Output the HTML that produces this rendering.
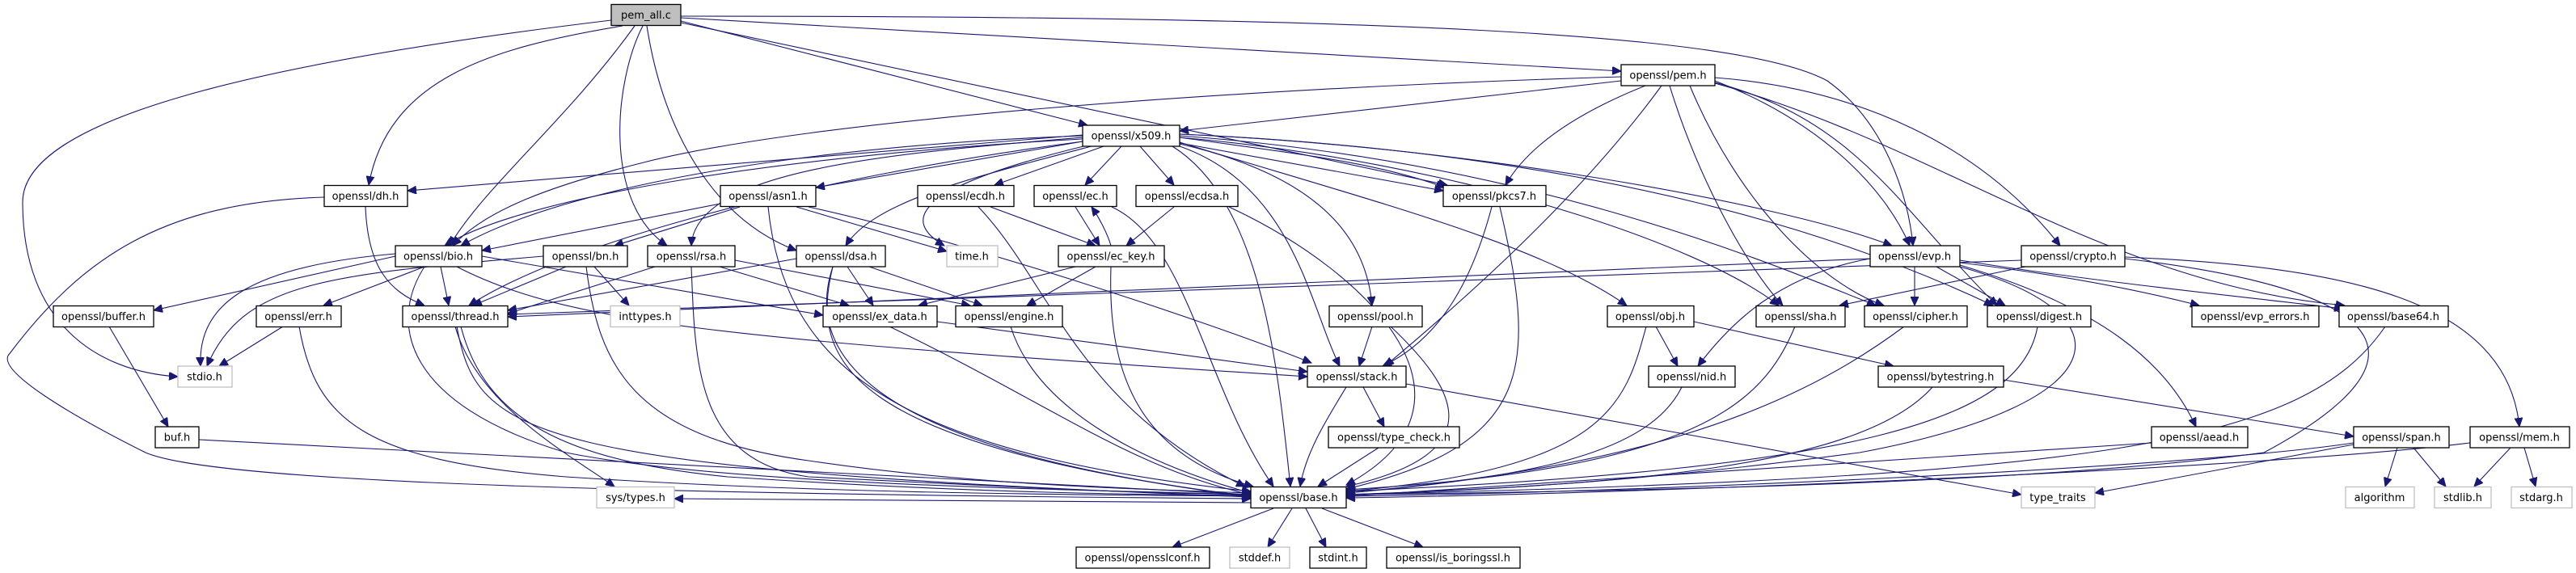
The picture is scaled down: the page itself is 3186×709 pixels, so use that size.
<!DOCTYPE html>
<html><head><meta charset="utf-8"><style>
html,body{margin:0;padding:0;background:#fff;}
svg{display:block;}
text{font-family:"DejaVu Sans","Liberation Sans",sans-serif;font-size:13px;fill:#000;text-anchor:middle;}
.e{fill:none;stroke:#191970;stroke-width:1.1;marker-end:url(#a);}
.n{fill:#fff;stroke:#000;stroke-width:1.3;}
.g{fill:#fff;stroke:#bfbfbf;stroke-width:1.3;}
</style></head><body>
<svg width="3186" height="709" viewBox="0 0 3186 709" xmlns="http://www.w3.org/2000/svg">
<defs><marker id="a" markerUnits="userSpaceOnUse" markerWidth="12" markerHeight="10" refX="11" refY="5" orient="auto"><path d="M0,0 L11,5 L0,10 z" fill="#191970" stroke="#191970"/></marker></defs>
<g>
<path class="e" d="M756,25 C 300,80 28,150 28,250 C 28,400 120,460 220,466"/>
<path class="e" d="M770,32 C 600,60 480,100 456,229"/>
<path class="e" d="M785,32 C 700,150 600,230 556,304"/>
<path class="e" d="M795,32 C 760,100 745,250 825,304"/>
<path class="e" d="M800,32 C 820,160 880,270 985,310"/>
<path class="e" d="M842,26 L1345,155"/>
<path class="e" d="M842,22 L2005,88"/>
<path class="e" d="M842,28 L1790,229"/>
<path class="e" d="M842,20 C 1700,20 2150,40 2260,100 C 2330,150 2360,240 2366,304"/>
<path class="e" d="M2005,100 L1459,162"/>
<path class="e" d="M2005,95 C 1500,110 1000,150 800,200 C 680,230 600,260 560,304"/>
<path class="e" d="M2035,106 C 1950,140 1890,180 1862,229"/>
<path class="e" d="M2055,106 C 1950,250 1800,380 1713,453"/>
<path class="e" d="M2121,100 C 2250,150 2330,230 2362,304"/>
<path class="e" d="M2121,96 C 2300,110 2450,180 2548,304"/>
<path class="e" d="M2090,106 C 2150,250 2250,350 2330,378"/>
<path class="e" d="M2065,106 C 2100,220 2160,330 2205,378"/>
<path class="e" d="M2121,102 C 2300,150 2350,260 2470,378"/>
<path class="e" d="M2121,103 C 2400,180 2600,350 2900,378"/>
<path class="e" d="M2313,320 L628,392"/>
<path class="e" d="M2500,322 C 2000,345 1000,370 628,389"/>
<path class="e" d="M1339,167 L504,236"/>
<path class="e" d="M1339,175 L1009,232"/>
<path class="e" d="M1339,168 C 1000,180 700,230 570,304"/>
<path class="e" d="M1339,172 C 1000,190 650,240 550,304"/>
<path class="e" d="M1339,175 C 1000,220 700,300 580,378"/>
<path class="e" d="M1339,170 C 1100,190 860,210 855,304"/>
<path class="e" d="M1350,181 C 1200,220 1080,250 1046,304"/>
<path class="e" d="M1340,181 C 1140,230 1110,270 1168,304"/>
<path class="e" d="M1365,181 L1230,229"/>
<path class="e" d="M1387,181 L1342,229"/>
<path class="e" d="M1410,181 L1452,229"/>
<path class="e" d="M1459,177 L1785,236"/>
<path class="e" d="M1459,170 C 1600,190 1700,200 1787,232"/>
<path class="e" d="M1450,181 C 1560,250 1580,450 1596,602"/>
<path class="e" d="M1459,181 C 1600,230 1620,380 1657,453"/>
<path class="e" d="M1459,178 C 1640,220 1690,300 1697,378"/>
<path class="e" d="M1459,176 C 1700,250 1900,300 2012,378"/>
<path class="e" d="M1459,166 C 1800,180 2200,250 2340,304"/>
<path class="e" d="M1459,170 C 1800,200 2100,300 2200,378"/>
<path class="e" d="M1459,168 C 1900,200 2200,330 2320,378"/>
<path class="e" d="M1459,166 C 2000,190 2300,300 2465,378"/>
<path class="e" d="M1000,256 C 1200,300 1500,400 1622,449"/>
<path class="e" d="M891,252 L596,310"/>
<path class="e" d="M915,256 L760,304"/>
<path class="e" d="M985,256 L1171,311"/>
<path class="e" d="M950,256 C 970,450 1100,560 1547,608"/>
<path class="e" d="M452,256 C 455,330 480,360 525,378"/>
<path class="e" d="M401,244 C 200,250 100,320 10,440 C 0,460 80,510 180,560 C 250,590 600,610 1547,617"/>
<path class="e" d="M489,317 L190,384"/>
<path class="e" d="M489,314 C 300,330 245,380 248,453"/>
<path class="e" d="M525,330 L400,378"/>
<path class="e" d="M545,330 L555,378"/>
<path class="e" d="M596,317 L1018,390"/>
<path class="e" d="M565,330 C 700,400 900,420 1617,466"/>
<path class="e" d="M525,330 C 480,400 500,500 700,560 C 900,600 1300,605 1547,612"/>
<path class="e" d="M672,317 C 400,340 300,350 256,453"/>
<path class="e" d="M700,330 L585,378"/>
<path class="e" d="M735,330 L778,378"/>
<path class="e" d="M725,330 C 740,450 780,540 1000,570 C 1200,600 1400,605 1547,610"/>
<path class="e" d="M810,330 L628,388"/>
<path class="e" d="M890,330 L1050,378"/>
<path class="e" d="M909,322 L1200,378"/>
<path class="e" d="M855,330 C 860,450 860,570 1000,590 C 1300,605 1400,610 1547,612"/>
<path class="e" d="M985,320 L628,384"/>
<path class="e" d="M1048,330 L1080,378"/>
<path class="e" d="M1075,330 L1215,378"/>
<path class="e" d="M1030,330 C 990,450 1100,560 1547,614"/>
<path class="e" d="M1030,330 C 1000,450 1050,550 1547,615"/>
<path class="e" d="M1374,304 C 1370,290 1360,270 1350,256"/>
<path class="e" d="M1330,256 L1360,304"/>
<path class="e" d="M1330,330 L1136,378"/>
<path class="e" d="M1355,330 L1270,378"/>
<path class="e" d="M1374,330 C 1370,450 1400,560 1550,602"/>
<path class="e" d="M1225,256 L1355,304"/>
<path class="e" d="M1210,256 C 1300,350 1330,500 1540,602"/>
<path class="e" d="M1375,256 C 1470,300 1490,480 1575,602"/>
<path class="e" d="M1452,256 L1393,304"/>
<path class="e" d="M1520,256 C 1700,340 1850,500 1665,600"/>
<path class="e" d="M1845,256 C 1820,350 1780,420 1710,453"/>
<path class="e" d="M1855,256 C 1900,450 1900,550 1665,605"/>
<path class="e" d="M1159,398 L1617,460"/>
<path class="e" d="M1100,404 C 1300,500 1400,580 1547,612"/>
<path class="e" d="M1250,404 C 1280,500 1400,570 1547,610"/>
<path class="e" d="M1697,404 L1681,453"/>
<path class="e" d="M1720,404 C 1800,480 1850,560 1665,602"/>
<path class="e" d="M1686,479 L1712,528"/>
<path class="e" d="M1665,479 C 1640,520 1615,560 1608,602"/>
<path class="e" d="M1739,475 L2500,612"/>
<path class="e" d="M1705,554 L1630,602"/>
<path class="e" d="M2048,404 L2075,453"/>
<path class="e" d="M2095,398 L2342,453"/>
<path class="e" d="M2036,404 C 2010,500 1990,580 1665,608"/>
<path class="e" d="M2080,479 C 2040,560 1900,590 1665,610"/>
<path class="e" d="M2478,470 L2911,540"/>
<path class="e" d="M2390,479 C 2300,580 2000,600 1665,612"/>
<path class="e" d="M2313,320 C 2200,340 2140,400 2100,453"/>
<path class="e" d="M2368,330 L2368,378"/>
<path class="e" d="M2395,330 L2480,378"/>
<path class="e" d="M2424,325 C 2550,340 2650,360 2720,378"/>
<path class="e" d="M2424,322 C 2600,350 2800,370 2898,382"/>
<path class="e" d="M2424,328 C 2600,380 2680,450 2716,528"/>
<path class="e" d="M2424,330 C 2640,390 2620,500 2300,560 C 2000,600 1800,608 1665,612"/>
<path class="e" d="M2505,330 L2275,378"/>
<path class="e" d="M2628,318 C 2900,330 3100,370 3116,528"/>
<path class="e" d="M2628,320 C 3050,370 2950,480 2800,560 C 2500,600 2000,608 1665,612"/>
<path class="e" d="M2220,404 C 2180,500 2100,580 1665,606"/>
<path class="e" d="M2355,404 C 2200,520 2000,580 1665,610"/>
<path class="e" d="M2520,404 C 2500,520 2300,580 1665,608"/>
<path class="e" d="M2950,404 C 2850,550 2600,590 1665,612"/>
<path class="e" d="M2661,548 L1665,614"/>
<path class="e" d="M2965,554 L2950,602"/>
<path class="e" d="M2985,554 L3025,602"/>
<path class="e" d="M2911,550 L2591,610"/>
<path class="e" d="M2911,548 C 2700,580 2000,610 1665,614"/>
<path class="e" d="M3105,554 L3060,602"/>
<path class="e" d="M3122,554 L3136,602"/>
<path class="e" d="M3055,548 C 2800,580 2000,612 1665,616"/>
<path class="e" d="M135,404 L208,528"/>
<path class="e" d="M246,544 L1547,612"/>
<path class="e" d="M350,404 L271,453"/>
<path class="e" d="M370,404 C 390,520 450,570 700,590 C 1000,610 1300,612 1547,614"/>
<path class="e" d="M563,404 C 590,500 700,560 760,602"/>
<path class="e" d="M570,404 C 600,520 700,570 900,590 C 1200,610 1400,612 1547,613"/>
<path class="e" d="M565,404 C 590,540 650,580 1547,615"/>
<path class="e" d="M1547,622 L834,617"/>
<path class="e" d="M1575,629 L1450,677"/>
<path class="e" d="M1598,629 L1568,677"/>
<path class="e" d="M1615,629 L1640,677"/>
<path class="e" d="M1635,629 L1760,677"/>
</g>
<g>
<rect x="756" y="5.5" width="86" height="26" fill="#bfbfbf" stroke="#000" stroke-width="1.3"/><text x="799" y="23">pem_all.c</text>
<rect class="n" x="2005" y="80" width="116" height="26"/><text x="2063" y="97.5">openssl/pem.h</text>
<rect class="n" x="1339" y="155" width="120" height="26"/><text x="1399" y="172.5">openssl/x509.h</text>
<rect class="n" x="401" y="229.5" width="103" height="26"/><text x="452" y="247">openssl/dh.h</text>
<rect class="n" x="891" y="229.5" width="118" height="26"/><text x="950" y="247">openssl/asn1.h</text>
<rect class="n" x="1135" y="229.5" width="119" height="26"/><text x="1194" y="247">openssl/ecdh.h</text>
<rect class="n" x="1279" y="229.5" width="102" height="26"/><text x="1330" y="247">openssl/ec.h</text>
<rect class="n" x="1405" y="229.5" width="126" height="26"/><text x="1468" y="247">openssl/ecdsa.h</text>
<rect class="n" x="1785" y="229.5" width="127" height="26"/><text x="1848" y="247">openssl/pkcs7.h</text>
<rect class="n" x="489" y="304" width="107" height="26"/><text x="542" y="321.5">openssl/bio.h</text>
<rect class="n" x="672" y="304" width="104" height="26"/><text x="724" y="321.5">openssl/bn.h</text>
<rect class="n" x="801" y="304" width="108" height="26"/><text x="855" y="321.5">openssl/rsa.h</text>
<rect class="n" x="985" y="304" width="110" height="26"/><text x="1040" y="321.5">openssl/dsa.h</text>
<rect class="g" x="1171" y="304" width="63" height="26"/><text x="1202" y="321.5">time.h</text>
<rect class="n" x="1309" y="304" width="131" height="26"/><text x="1374" y="321.5">openssl/ec_key.h</text>
<rect class="n" x="2313" y="304" width="111" height="26"/><text x="2368" y="321.5">openssl/evp.h</text>
<rect class="n" x="2500" y="304" width="128" height="26"/><text x="2564" y="321.5">openssl/crypto.h</text>
<rect class="n" x="66" y="378.5" width="124" height="26"/><text x="128" y="396">openssl/buffer.h</text>
<rect class="n" x="317" y="378.5" width="105" height="26"/><text x="369" y="396">openssl/err.h</text>
<rect class="n" x="498" y="378.5" width="130" height="26"/><text x="563" y="396">openssl/thread.h</text>
<rect class="g" x="755" y="378.5" width="86" height="26"/><text x="798" y="396">inttypes.h</text>
<rect class="n" x="1018" y="378.5" width="141" height="26"/><text x="1088" y="396">openssl/ex_data.h</text>
<rect class="n" x="1182" y="378.5" width="132" height="26"/><text x="1248" y="396">openssl/engine.h</text>
<rect class="n" x="1644" y="378.5" width="115" height="26"/><text x="1701" y="396">openssl/pool.h</text>
<rect class="n" x="1988" y="378.5" width="107" height="26"/><text x="2041" y="396">openssl/obj.h</text>
<rect class="n" x="2172" y="378.5" width="110" height="26"/><text x="2227" y="396">openssl/sha.h</text>
<rect class="n" x="2306" y="378.5" width="127" height="26"/><text x="2369" y="396">openssl/cipher.h</text>
<rect class="n" x="2458" y="378.5" width="128" height="26"/><text x="2522" y="396">openssl/digest.h</text>
<rect class="n" x="2711" y="378.5" width="157" height="26"/><text x="2789" y="396">openssl/evp_errors.h</text>
<rect class="n" x="2893" y="378.5" width="135" height="26"/><text x="2960" y="396">openssl/base64.h</text>
<rect class="g" x="220" y="453" width="67" height="26"/><text x="253" y="470.5">stdio.h</text>
<rect class="n" x="1617" y="453" width="122" height="26"/><text x="1678" y="470.5">openssl/stack.h</text>
<rect class="n" x="2039" y="453" width="107" height="26"/><text x="2092" y="470.5">openssl/nid.h</text>
<rect class="n" x="2323" y="453" width="155" height="26"/><text x="2400" y="470.5">openssl/bytestring.h</text>
<rect class="n" x="192" y="528" width="54" height="26"/><text x="219" y="545.5">buf.h</text>
<rect class="n" x="1643" y="528" width="162" height="26"/><text x="1724" y="545.5">openssl/type_check.h</text>
<rect class="n" x="2661" y="528" width="119" height="26"/><text x="2720" y="545.5">openssl/aead.h</text>
<rect class="n" x="2911" y="528" width="118" height="26"/><text x="2970" y="545.5">openssl/span.h</text>
<rect class="n" x="3055" y="528" width="123" height="26"/><text x="3116" y="545.5">openssl/mem.h</text>
<rect class="g" x="738" y="602.5" width="96" height="26"/><text x="786" y="620">sys/types.h</text>
<rect class="n" x="1547" y="602.5" width="118" height="26"/><text x="1606" y="620">openssl/base.h</text>
<rect class="g" x="2500" y="602.5" width="91" height="26"/><text x="2545" y="620">type_traits</text>
<rect class="g" x="2901" y="602.5" width="85" height="26"/><text x="2943" y="620">algorithm</text>
<rect class="g" x="3011" y="602.5" width="70" height="26"/><text x="3046" y="620">stdlib.h</text>
<rect class="g" x="3106" y="602.5" width="75" height="26"/><text x="3143" y="620">stdarg.h</text>
<rect class="n" x="1331" y="677" width="165" height="26"/><text x="1413" y="694.5">openssl/opensslconf.h</text>
<rect class="g" x="1521" y="677" width="74" height="26"/><text x="1558" y="694.5">stddef.h</text>
<rect class="n" x="1620" y="677" width="70" height="26"/><text x="1655" y="694.5">stdint.h</text>
<rect class="n" x="1715" y="677" width="165" height="26"/><text x="1797" y="694.5">openssl/is_boringssl.h</text>
</g>
</svg>
</body></html>
